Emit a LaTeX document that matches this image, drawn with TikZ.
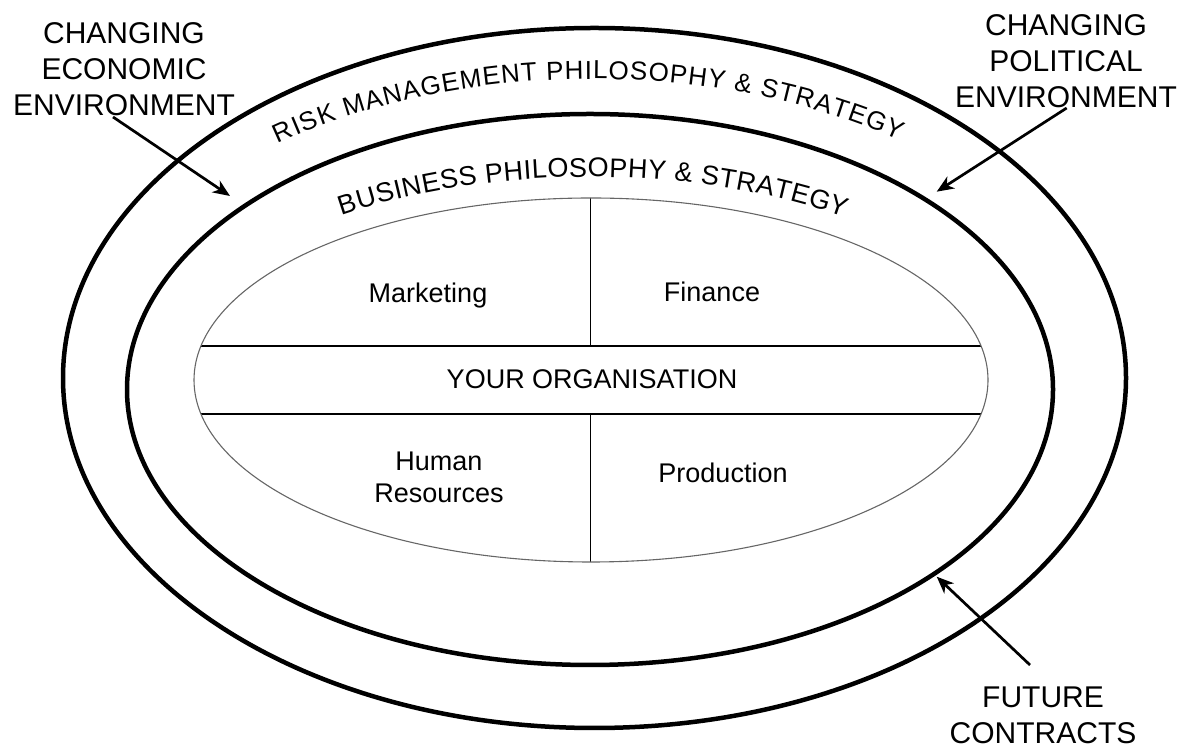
\documentclass[tikz,border=0pt]{standalone}
\usepackage{fontspec}
\setmainfont{Liberation Sans}
\usetikzlibrary{decorations.text,arrows.meta}
\begin{document}
\begin{tikzpicture}[x=1pt,y=1pt,
  ring/.style={line width=4.5pt,black},
  inner/.style={line width=1.1pt,draw=black!60},
  div/.style={line width=1.2pt,black},
  ptr/.style={line width=2.7pt,-{Stealth[length=17pt,width=14pt,inset=5pt]}},
  lab/.style={font=\fontsize{27}{32}\selectfont,align=center,inner sep=0pt},
  env/.style={font=\fontsize{30}{36}\selectfont,align=center,inner sep=0pt},
]
\useasboundingbox (0,0) rectangle (1185,749);
% rings
\draw[ring] (594.5,371) ellipse [x radius=531.5, y radius=350];
\draw[ring] (590,359.5) ellipse [x radius=463, y radius=275.5];
% inner organisation ellipse
\begin{scope}
  \clip (591,369) ellipse [x radius=397, y radius=182];
  \draw[div] (150,403) -- (1040,403);
  \draw[div] (150,335) -- (1040,335);
  \draw[div] (590.6,560) -- (590.6,403);
  \draw[div] (590.6,335) -- (590.6,180);
\end{scope}
\draw[inner] (591,369) ellipse [x radius=397, y radius=182];
% curved texts
\path[decorate,decoration={text along path,text align={fit to path},
  text={|\fontsize{26}{26}\selectfont|RISK MANAGEMENT PHILOSOPHY {\&} STRATEGY}}]
  (592,365) ++(128:510 and 305) arc[start angle=128,end angle=53,x radius=510,y radius=305];
\path[decorate,decoration={text along path,text align={fit to path},
  text={|\fontsize{27}{27}\selectfont|BUSINESS PHILOSOPHY {\&} STRATEGY}}]
  (590,360) ++(125:433 and 212) arc[start angle=125,end angle=54,x radius=433,y radius=212];
% inner labels
\node[lab,anchor=base] (mkt) at (428,446) {Marketing};
\node[lab,anchor=base] (fin) at (712,447) {Finance};
\node[lab,anchor=base] (org) at (592,360) {YOUR ORGANISATION};
\node[lab] (hr) at (439,272) {Human\\Resources};
\node[lab,anchor=base] (prod) at (723,266) {Production};
% environment labels
\node[env] (econ) at (124,680) {CHANGING\\ECONOMIC\\ENVIRONMENT};
\node[env] (pol) at (1066,688) {CHANGING\\POLITICAL\\ENVIRONMENT};
\node[env] (fut) at (1043,33.5) {FUTURE\\CONTRACTS};
% arrows
\coordinate (econS) at (113,632);
\coordinate (econT) at (230,553);
\coordinate (polS) at (1066.7,641);
\coordinate (polT) at (936.7,557.3);
\coordinate (futS) at (1030,84);
\coordinate (futT) at (936.7,172.3);
\draw[ptr] (econS) -- (econT);
\draw[ptr] (polS) -- (polT);
\draw[ptr] (futS) -- (futT);
\end{tikzpicture}
\end{document}
